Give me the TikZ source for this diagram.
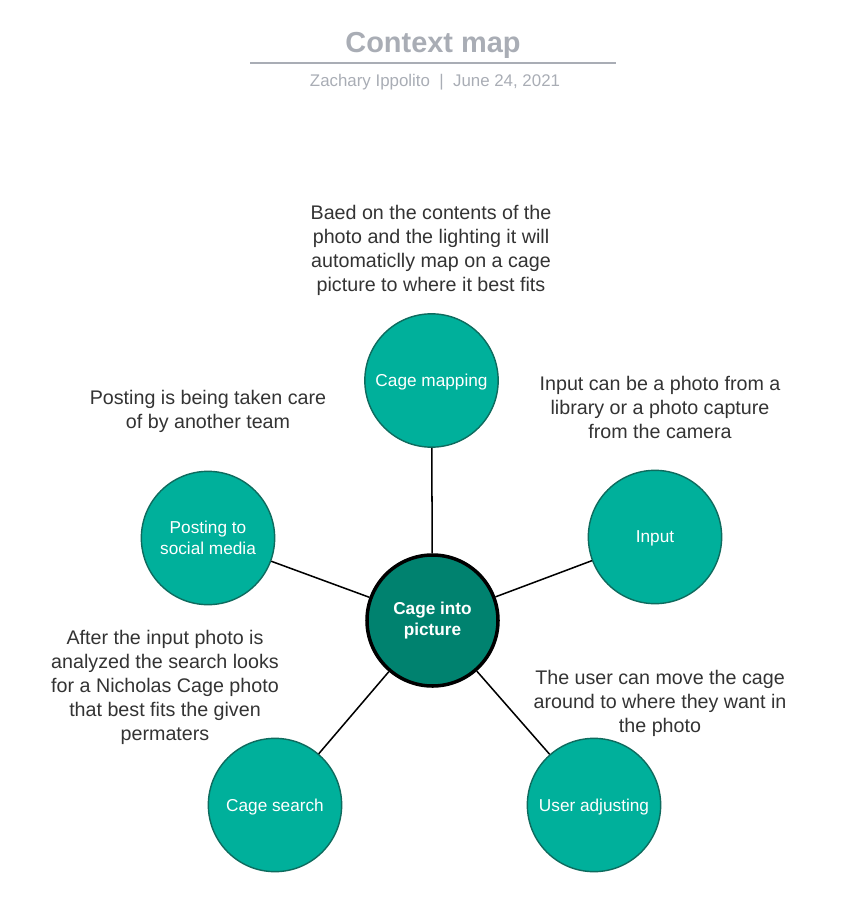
\documentclass[tikz,border=0pt]{standalone}
\usepackage{fontspec}
\setmainfont{Liberation Sans}
\definecolor{leaffill}{HTML}{00B09B}
\definecolor{leafedge}{HTML}{0E6B5E}
\definecolor{hubfill}{HTML}{00826F}
\definecolor{titlegray}{HTML}{A9ADB5}
\definecolor{notegray}{HTML}{333333}
\tikzset{
  leaf/.style={circle, fill=leaffill, draw=leafedge, line width=1.2pt, minimum size=4cm, inner sep=0pt, text=white, align=center, font=\fontsize{14.7}{18}\selectfont},
  oneline/.style={text depth=0pt},
  hub/.style={circle, fill=hubfill, draw=black, line width=3pt, minimum size=3.93cm, inner sep=0pt, text=white, align=center, font=\bfseries\fontsize{14.7}{18}\selectfont},
  note/.style={align=center, text=notegray, inner sep=0pt, font=\fontsize{16.8}{20.5}\selectfont},
  link/.style={draw=black, line width=1.3pt}
}

\begin{document}
\begin{tikzpicture}[x=0.03cm, y=-0.03cm]
    \useasboundingbox (0,0) rectangle (844,901);
    \node[text=titlegray, font=\bfseries\fontsize{24.7}{28}\selectfont] (title) at (433,45.5) {Context map};
    \draw[titlegray, line width=1.6pt] (250,63) -- (616,63);
    \node[text=titlegray, font=\fontsize{14.4}{17}\selectfont] (byline) at (435,82.5) {Zachary Ippolito\ \ |\ \ June 24, 2021};

    \node[hub] (cage) at (432.5,620.5) {Cage into\\picture};
    \node[leaf, oneline] (mapping) at (431.5,380.5) {Cage mapping};
    \node[leaf, oneline] (input) at (655,537) {Input};
    \node[leaf] (posting) at (208,538) {Posting to\\social media};
    \node[leaf, oneline] (search) at (275,805) {Cage search};
    \node[leaf, oneline] (adjusting) at (594,805) {User adjusting};

    \foreach \n in {mapping, input, posting, search, adjusting}
        \draw[link] (cage) -- (\n);

    \node[note] (mappingnote) at (431,250) {Baed on the contents of the\\photo and the lighting it will\\automaticlly map on a cage\\picture to where it best fits};
    \node[note] (postingnote) at (208,411.5) {Posting is being taken care\\of by another team};
    \node[note] (inputnote) at (660,407.5) {Input can be a photo from a\\library or a photo capture\\from the camera};
    \node[note] (searchnote) at (165,687.5) {After the input photo is\\analyzed the search looks\\for a Nicholas Cage photo\\that best fits the given\\permaters};
    \node[note] (adjustingnote) at (660,703) {The user can move the cage\\around to where they want in\\the photo};
\end{tikzpicture}
\end{document}
